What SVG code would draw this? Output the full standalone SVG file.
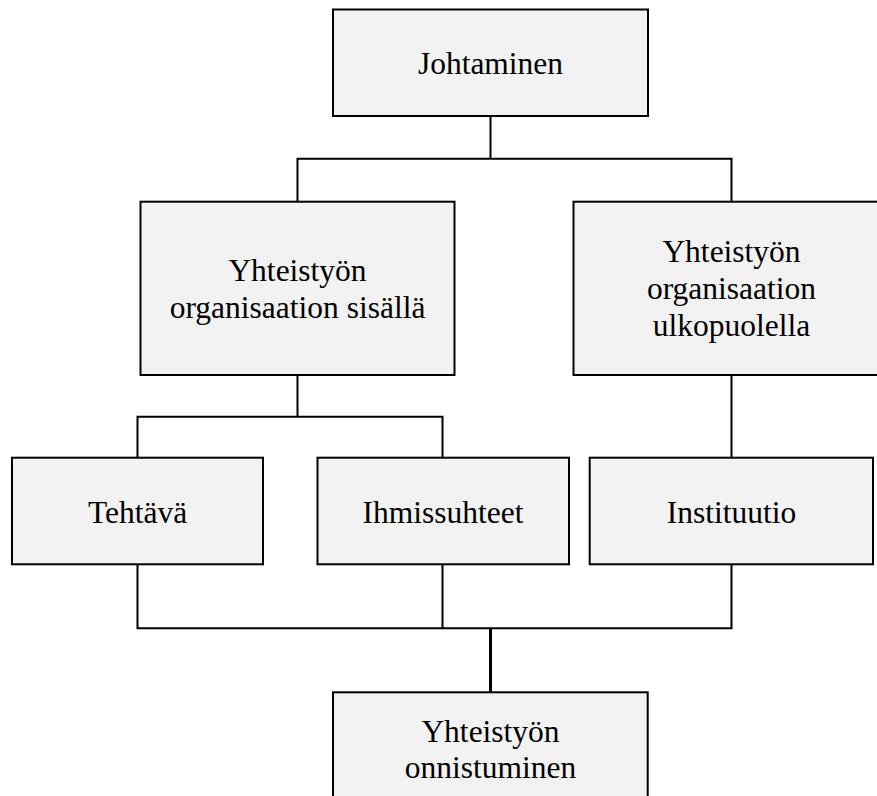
<svg xmlns="http://www.w3.org/2000/svg" width="877" height="796" viewBox="0 0 877 796">
<style>
.box{fill:#f2f2f2;stroke:#000;stroke-width:2}
.lbl{font-family:"Liberation Serif","Times New Roman",serif;font-size:31.5px;fill:#000;text-anchor:middle}
.con{fill:none;stroke:#000;stroke-width:2}
</style>
<rect width="877" height="796" fill="#fff"/>
<g id="connectors">
<path class="con" d="M490.5,116 V158.7 M297.5,201.7 V158.7 H731.5 V201.7"/>
<path class="con" d="M297.5,375 V416.7 M137.5,457.7 V416.7 H442.5 V457.7"/>
<path class="con" d="M731.5,375 V457.7"/>
<path class="con" d="M137.5,564.3 V628.3 H731.5 V564.3 M442.5,564.3 V628.3"/>
<path class="con" style="stroke-width:3" d="M490.5,628.3 V692.3"/>
</g>
<g id="johtaminen">
<rect class="box" x="333" y="9.5" width="315" height="106.5"/>
<text class="lbl" x="490.5" y="74">Johtaminen</text>
</g>
<g id="sisalla">
<rect class="box" x="140.5" y="201.7" width="314" height="173.3"/>
<text class="lbl" x="297.5" y="281">Yhteistyön</text>
<text class="lbl" x="297.5" y="317.5">organisaation sisällä</text>
</g>
<g id="ulkopuolella">
<rect class="box" x="573.5" y="201.7" width="316" height="173.3"/>
<text class="lbl" x="731.5" y="262">Yhteistyön</text>
<text class="lbl" x="731.5" y="299">organisaation</text>
<text class="lbl" x="731.5" y="336">ulkopuolella</text>
</g>
<g id="tehtava">
<rect class="box" x="12" y="457.7" width="251" height="106.6"/>
<text class="lbl" x="137.5" y="522.5">Tehtävä</text>
</g>
<g id="ihmissuhteet">
<rect class="box" x="317.5" y="457.7" width="251.5" height="106.6"/>
<text class="lbl" x="443" y="522.5">Ihmissuhteet</text>
</g>
<g id="instituutio">
<rect class="box" x="589.7" y="457.7" width="283.3" height="106.6"/>
<text class="lbl" x="731.5" y="522.5">Instituutio</text>
</g>
<g id="onnistuminen">
<rect class="box" x="333" y="692.3" width="314.7" height="140"/>
<text class="lbl" x="490.5" y="741.7">Yhteistyön</text>
<text class="lbl" x="490.5" y="778">onnistuminen</text>
</g>
</svg>
